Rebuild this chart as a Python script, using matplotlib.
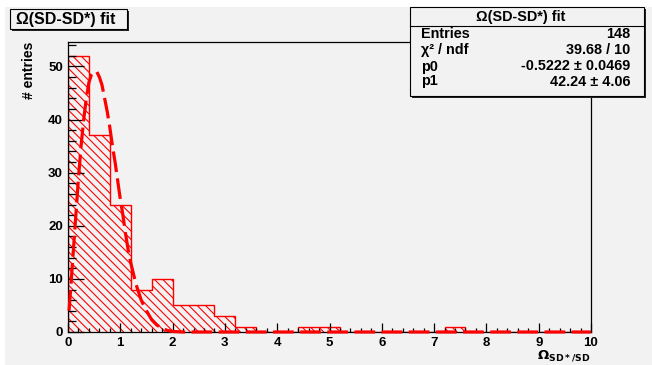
import matplotlib.pyplot as plt
from matplotlib.patches import Rectangle

# histogram: 25 bins of width 0.4 on [0, 10]
bin_edges = [0.0, 0.4, 0.8, 1.2, 1.6, 2.0, 2.4, 2.8, 3.2, 3.6, 4.0, 4.4, 4.8, 5.2,
             5.6, 6.0, 6.4, 6.8, 7.2, 7.6, 8.0, 8.4, 8.8, 9.2, 9.6, 10.0]
counts = [52, 37, 24, 8, 10, 5, 5, 3, 1, 0, 0, 1, 1, 0, 0, 0, 0, 0, 1, 0, 0, 0, 0, 0, 0]

# fit curve
fit_x = [0.02, 0.05, 0.10, 0.15, 0.20, 0.25, 0.30, 0.35, 0.40, 0.45, 0.50, 0.55,
         0.60, 0.65, 0.70, 0.75, 0.80, 0.85, 0.90, 0.95, 1.00, 1.05, 1.10, 1.15,
         1.20, 1.25, 1.30, 1.35, 1.40, 1.50, 1.60, 1.70, 1.80, 1.90, 2.00, 2.20, 10.0]
fit_y = [4, 8, 15, 22, 29, 35, 40, 44, 47, 48.5, 49, 49,
         48, 46.5, 44, 41.5, 38.5, 35, 32, 28.5, 25, 22, 18.5, 15.5,
         13, 11, 9, 7.5, 6, 4, 2.3, 1.3, 0.7, 0.3, 0.1, 0, 0]

stat_labels = ["Entries", "\u03c7\u00b2 / ndf", "p0", "p1"]
stat_values = ["148", "39.68 / 10", "-0.5222 \u00b1 0.0469", "42.24 \u00b1 4.06"]
title = "\u03a9(SD-SD*) fit"

plt.rcParams['font.family'] = ['Liberation Sans', 'DejaVu Sans']
plt.rcParams['font.weight'] = 'bold'
plt.rcParams['hatch.linewidth'] = 0.8

W, H = 652, 365
grey = '#f2f2f2'
fig = plt.figure(figsize=(W / 100, H / 100), dpi=100, facecolor=grey)


def fx(px):
    return px / W


def fy(py):
    return 1 - py / H


# thin white strips at top and left, like the original canvas
fig.patches.append(Rectangle((0, 0), fx(5), 1, transform=fig.transFigure,
                             facecolor='white', edgecolor='none', zorder=-5))
fig.patches.append(Rectangle((0, fy(7)), 1, 1 - fy(7), transform=fig.transFigure,
                             facecolor='white', edgecolor='none', zorder=-5))

ax = fig.add_axes([fx(68), fy(332), fx(591) - fx(68), fy(42) - fy(332)])
ax.set_facecolor(grey)

ax.stairs(counts, bin_edges, fill=True, facecolor='none', edgecolor='red',
          hatch='\\\\\\\\', linewidth=0)
ax.stairs(counts, bin_edges, color='red', linewidth=1.0)
ax.plot(fit_x, fit_y, color='red', linewidth=2.3, dashes=(6.5, 2.0),
        clip_on=False, zorder=5)

ax.set_xlim(0, 10)
ax.set_ylim(0, 54.6)
ax.set_xticks(range(0, 11))
ax.set_xticks([0.2 * i for i in range(51)], minor=True)
ax.set_yticks(range(0, 51, 10))
ax.set_yticks(range(0, 55, 2), minor=True)
ax.tick_params(axis='both', which='both', direction='in', labelsize=9.5,
               top=False, right=False, width=0.9)
ax.tick_params(axis='x', which='major', length=6.3, pad=3.5)
ax.tick_params(axis='x', which='minor', length=3.1)
ax.tick_params(axis='y', which='major', length=11.3, pad=3.6)
ax.tick_params(axis='y', which='minor', length=5.6)
for sp in ax.spines.values():
    sp.set_linewidth(0.9)

ax.set_ylabel('# entries', fontsize=10, fontweight='bold', loc='top')
ax.yaxis.set_label_coords(-0.062, 1.0)
ax.set_xlabel(r'$\Omega_{\mathbf{SD*/SD}}$', fontsize=9.5, loc='right')
ax.xaxis.set_label_coords(1.0, -0.055)
ax.xaxis.label.set_verticalalignment('top')


def box(x0, y0, x1, y1):
    # ROOT style pave with a dark shadow on the right and bottom
    fig.patches.append(Rectangle((fx(x0 + 2), fy(y1 + 2)), fx(x1) - fx(x0), fy(y0) - fy(y1),
                                 transform=fig.transFigure, facecolor='#222222',
                                 edgecolor='none', zorder=10))
    fig.patches.append(Rectangle((fx(x0), fy(y1)), fx(x1) - fx(x0), fy(y0) - fy(y1),
                                 transform=fig.transFigure, facecolor=grey,
                                 edgecolor='black', linewidth=0.8, zorder=11))


# title box
box(10, 9, 127, 29)
fig.text(fx(66), fy(19.5), title, ha='center', va='center', fontsize=11.5, zorder=12)

# stats box
box(410, 7, 644, 96)
fig.add_artist(plt.Line2D([fx(410), fx(644)], [fy(26), fy(26)], color='black',
                          linewidth=0.8, zorder=12))
fig.text(fx(521), fy(16.5), title, ha='center', va='center', fontsize=10.4, zorder=12)
row_y = [34, 50, 66.5, 81.5]
for lab, val, py in zip(stat_labels, stat_values, row_y):
    fig.text(fx(421), fy(py), lab, ha='left', va='center', fontsize=10.4, zorder=12)
    fig.text(fx(630), fy(py), val, ha='right', va='center', fontsize=10.4, zorder=12)

fig.savefig('out.png', dpi=100, facecolor=fig.get_facecolor())
